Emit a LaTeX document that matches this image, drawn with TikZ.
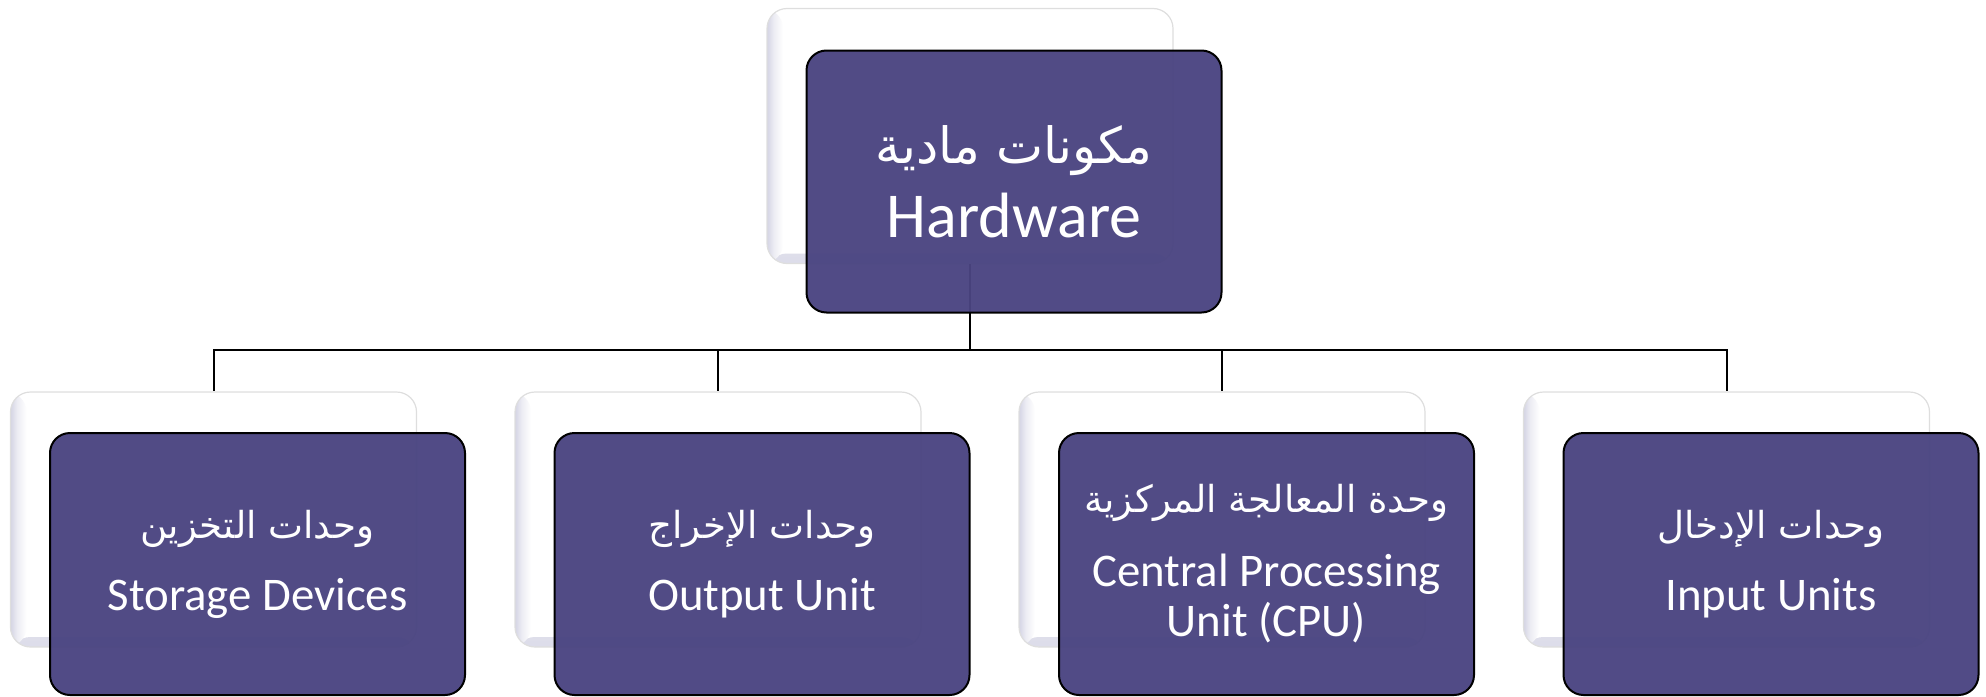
\documentclass[tikz,border=0pt]{standalone}
\usepackage{fontspec}
\setmainfont{Carlito}
\newfontfamily\arabicfont[Script=Arabic]{DejaVu Sans}
\TeXXeTstate=1
\definecolor{cardpurple}{HTML}{4A4481}
\definecolor{cardshade}{HTML}{D4D4E4}
\pgfdeclarehorizontalshading{edgefade}{100bp}{color(0bp)=(cardshade); color(25bp)=(cardshade); color(45bp)=(cardshade!45!white); color(75bp)=(white); color(100bp)=(white)}
\pgfdeclareverticalshading{bottomfade}{100bp}{color(0bp)=(cardshade!80!white); color(25bp)=(cardshade!80!white); color(75bp)=(white); color(100bp)=(white)}
\newcommand{\ar}[1]{{\arabicfont\beginR #1\endR}}
\begin{document}
\begin{tikzpicture}[x=0.5pt,y=-0.5pt,
  backcard/.style={rectangle, rounded corners=10pt, inner sep=0pt,
    minimum width=203pt, minimum height=127.5pt, fill=white, draw=black!13, line width=0.6pt,
    path picture={
      \shade[shading=bottomfade]
      (path picture bounding box.south west) rectangle ([yshift=5pt]path picture bounding box.south east);
      \shade[shading=edgefade]
      (path picture bounding box.south west) rectangle ([xshift=8pt]path picture bounding box.north west);}},
  frontcard/.style={rectangle, rounded corners=10pt, inner sep=0pt,
    minimum width=207.5pt, minimum height=131pt, fill=cardpurple, fill opacity=0.96, text opacity=1,
    draw=black, line width=1pt, text=white, align=center},
  smalltext/.style={font=\fontsize{23.4}{27}\selectfont},
  bigtext/.style={font=\fontsize{32}{36}\selectfont},
  arsmall/.style={},
  link/.style={draw=black, line width=1pt}]
\useasboundingbox (0,0) rectangle (1986,696);

% back cards
\node[backcard] (topw) at (970,136) {};
\node[backcard] (w1) at (213.5,519.5) {};
\node[backcard] (w2) at (718,519.5) {};
\node[backcard] (w3) at (1222,519.5) {};
\node[backcard] (w4) at (1726.5,519.5) {};

% connectors
\coordinate (bus) at (0,350);
\draw[link] (topw.south) -- (topw.south |- bus) -| (w1.north);
\draw[link] (topw.south |- bus) -| (w2.north);
\draw[link] (topw.south |- bus) -| (w3.north);
\draw[link] (topw.south |- bus) -| (w4.north);

% front cards
\node[frontcard, bigtext] (top) at (1014,181.5) {{\fontsize{25}{29}\selectfont\ar{مكونات مادية}}\\[1pt]Hardware};
\node[frontcard, smalltext] (c1) at (257.5,564) {{\fontsize{18.6}{22}\selectfont\ar{وحدات التخزين}}\\[9pt]Storage Devices};
\node[frontcard, smalltext] (c2) at (762,564) {{\fontsize{18.6}{22}\selectfont\ar{وحدات الإخراج}}\\[9pt]Output Unit};
\node[frontcard, smalltext] (c3) at (1266.5,564) {{\fontsize{18.6}{22}\selectfont\ar{وحدة المعالجة المركزية}}\\[10pt]Central Processing\\[-2pt]Unit (CPU)};
\node[frontcard, smalltext] (c4) at (1771,564) {{\fontsize{18.6}{22}\selectfont\ar{وحدات الإدخال}}\\[9pt]Input Units};
\end{tikzpicture}
\end{document}
